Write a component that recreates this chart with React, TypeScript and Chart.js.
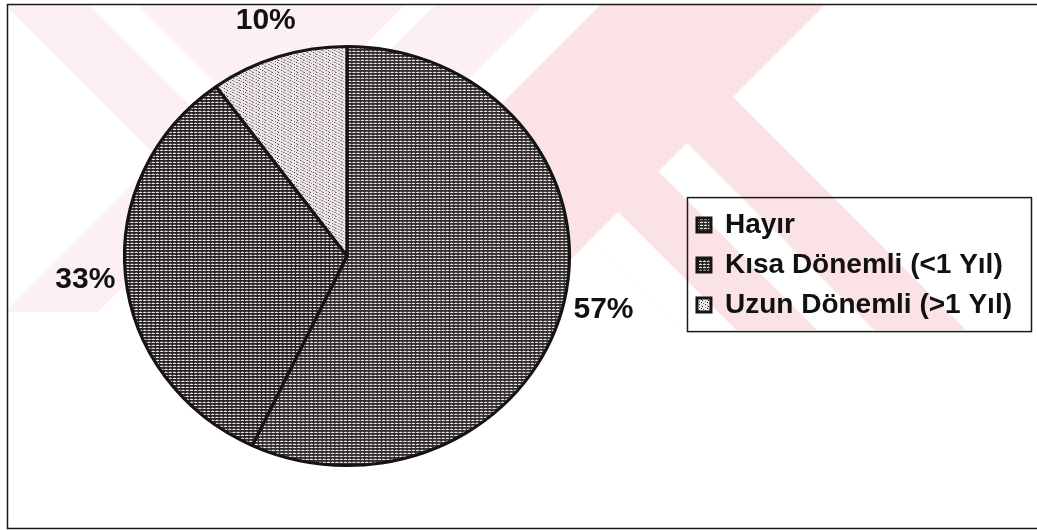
import React, { useEffect, useRef } from 'react';
import { Chart, registerables } from 'chart.js';

Chart.register(...registerables);

// ---- data ----
const categories = ['Hayır', 'Kısa Dönemli (<1 Yıl)', 'Uzun Dönemli (>1 Yıl)'];
const shares = [57, 33, 10];

// ---- styles ----
const FONT = '"Liberation Sans", Arial, Helvetica, sans-serif';
const X_STRETCH = 1.062; // scanned pie is slightly wider than tall
const LIGHT_PINK = '#fdf0f2';
const STRONG_PINK = '#fbe2e5';

function makePattern(rows: string[][]): CanvasPattern | string {
  const h = rows.length;
  const w = rows[0].length;
  const c = document.createElement('canvas');
  c.width = w;
  c.height = h;
  const g = c.getContext('2d');
  if (!g) return '#777';
  rows.forEach((r, y) => r.forEach((col, x) => { g.fillStyle = col; g.fillRect(x, y, 1, 1); }));
  return g.createPattern(c, 'repeat') || '#777';
}

function poly(ctx: CanvasRenderingContext2D, pts: number[][], color: string) {
  ctx.beginPath();
  ctx.moveTo(pts[0][0], pts[0][1]);
  for (let i = 1; i < pts.length; i++) ctx.lineTo(pts[i][0], pts[i][1]);
  ctx.closePath();
  ctx.fillStyle = color;
  ctx.fill();
}

function drawWatermark(ctx: CanvasRenderingContext2D) {
  ctx.save();
  ctx.beginPath();
  ctx.moveTo(8, 5);
  ctx.lineTo(1036, 5);
  ctx.lineTo(1036, 330);
  ctx.lineTo(560, 330);
  ctx.lineTo(560, 312);
  ctx.lineTo(8, 312);
  ctx.closePath();
  ctx.clip();
  ctx.fillStyle = LIGHT_PINK;
  ctx.fillRect(0, 0, 1037, 340);
  // stronger "/" band and right-hand region
  poly(ctx, [[605, 0], [1040, 0], [1040, 340], [265, 340]], STRONG_PINK);
  const W = '#ffffff';
  // left side whites
  poly(ctx, [[0, 0], [158.5, 158.5], [0, 317]], W);
  poly(ctx, [[85, 0], [133, 0], [225, 92], [201, 116]], W);
  poly(ctx, [[410, 0], [440, 0], [0, 440], [0, 410]], W);
  poly(ctx, [[548, 0], [605, 0], [0, 605], [0, 548]], W);
  // chevron whites on the right
  poly(ctx, [[733, 97], [830, 0], [1040, 0], [1040, 404]], W);
  poly(ctx, [[687, 143], [658.5, 171.5], [1058.5, 571.5], [1087, 543]], W);
  poly(ctx, [[618, 212], [590, 240], [990, 640], [1018, 612]], W);
  poly(ctx, [[590, 240], [415, 415], [1040, 415], [1040, 690]], W);
  ctx.restore();
}

const decorPlugin = {
  id: 'decor',
  beforeDraw(chart: any) {
    drawWatermark(chart.ctx);
  },
  beforeDatasetsDraw(chart: any) {
    const meta = chart.getDatasetMeta(0);
    const arc = meta.data[0];
    if (!arc) return;
    const ctx = chart.ctx;
    ctx.save();
    ctx.translate(arc.x, arc.y);
    ctx.scale(X_STRETCH, 1);
    ctx.translate(-arc.x, -arc.y);
  },
  afterDatasetsDraw(chart: any) {
    const ctx = chart.ctx;
    ctx.restore();
    const meta = chart.getDatasetMeta(0);
    ctx.save();
    ctx.font = `bold 30px ${FONT}`;
    ctx.fillStyle = '#111';
    ctx.textAlign = 'center';
    ctx.textBaseline = 'middle';
    meta.data.forEach((arc: any, i: number) => {
      const p = arc.getProps(['x', 'y', 'startAngle', 'endAngle', 'outerRadius']);
      const mid = (p.startAngle + p.endAngle) / 2;
      const d = p.outerRadius + 38;
      ctx.fillText(`${shares[i]}%`, p.x + Math.cos(mid) * d * X_STRETCH, p.y + Math.sin(mid) * d);
    });
    ctx.restore();
  },
  afterDraw(chart: any) {
    const ctx = chart.ctx;
    ctx.save();
    ctx.strokeStyle = '#1a1a1a';
    ctx.lineWidth = 1.5;
    ctx.beginPath();
    ctx.moveTo(1037, 4.5);
    ctx.lineTo(7.5, 4.5);
    ctx.lineTo(7.5, 528.5);
    ctx.lineTo(1037, 528.5);
    ctx.stroke();
    const lg = chart.legend;
    const hb = lg.legendHitBoxes;
    if (hb && hb.length) {
      const top = hb[0].top - 14;
      const bottom = hb[hb.length - 1].top + hb[hb.length - 1].height + 12;
      const left = lg.left + 2;
      const right = chart.width - 6;
      ctx.lineWidth = 1.5;
      ctx.strokeRect(left + 0.5, top + 0.5, right - left, bottom - top);
    }
    ctx.restore();
  },
};

export default function App() {
  const ref = useRef<HTMLCanvasElement>(null);

  useEffect(() => {
    document.body.style.margin = '0';
    const canvas = ref.current;
    if (!canvas) return;
    const D1 = '#332d2e';
    const D2 = '#2a2425';
    const Wt = '#e6e2e2';
    const G = '#7a7475';
    const hayir = makePattern([
      [Wt, Wt, Wt, D1],
      [D1, D1, D1, D1],
      [D1, G, D1, D1],
    ]);
    const kisa = makePattern([
      [Wt, Wt, D2, Wt],
      [D2, D2, D2, D2],
      [G, D2, D2, D2],
    ]);
    const B = '#f0e8e9';
    const uzun = makePattern([
      [D1, B, B, B, B, B],
      [B, B, B, G, B, B],
      [B, B, B, B, B, D1],
      [B, G, B, B, B, B],
      [B, B, B, D1, B, B],
      [B, B, B, B, B, G],
    ]);

    const chart = new Chart(canvas, {
      type: 'pie',
      data: {
        labels: categories,
        datasets: [
          {
            data: shares,
            backgroundColor: [hayir, kisa, uzun] as any,
            borderColor: '#141414',
            borderWidth: 3,
          },
        ],
      },
      options: {
        animation: false,
        responsive: false,
        devicePixelRatio: 1,
        layout: { padding: { top: 45, bottom: 63, left: 9, right: 15 } },
        plugins: {
          tooltip: { enabled: false },
          legend: {
            position: 'right',
            title: { display: true, text: '', font: { size: 1 }, padding: { top: 0, bottom: 17 } },
            labels: {
              font: { size: 28, family: FONT, weight: 'bold' },
              color: '#111',
              boxWidth: 14,
              boxHeight: 14,
              padding: 12,
            },
          },
        },
      },
      plugins: [decorPlugin],
    });
    return () => chart.destroy();
  }, []);

  return (
    <div style={{ width: 1037, height: 530, background: '#fff' }}>
      <canvas ref={ref} width={1037} height={530} style={{ display: 'block' }} />
    </div>
  );
}
